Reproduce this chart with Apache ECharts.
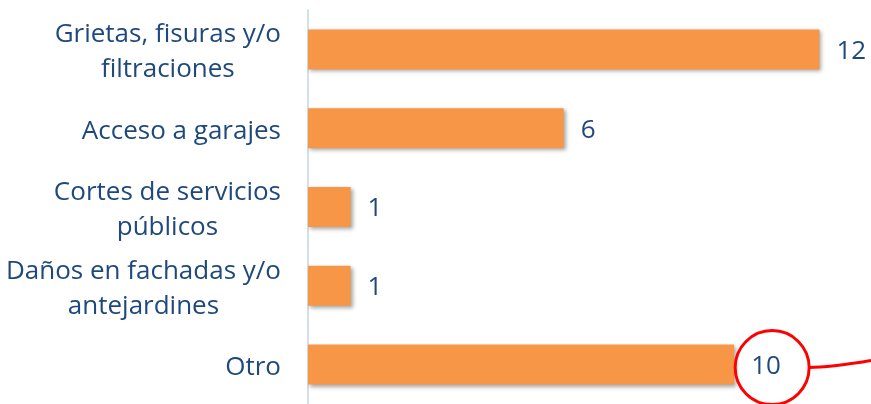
<html>
<head>
    <meta charset="utf-8">
    <title>Chart</title>
    <script src="https://cdn.jsdelivr.net/npm/echarts@6/dist/echarts.min.js"></script>
    <style>
        html, body { margin: 0; padding: 0; width: 871px; height: 404px; background: #fff; }
        #main { width: 871px; height: 404px; }
    </style>
</head>
<body>
    <div id="main"></div>
    <script type="text/javascript">
        // datos del gráfico
        var categorias = [
            'Grietas, fisuras y/o\nfiltraciones',
            'Acceso a garajes',
            'Cortes de servicios\npúblicos',
            'Daños en fachadas y/o\nantejardines',
            'Otro'
        ];
        var valores = [12, 6, 1, 1, 10];

        var azul = '#1F497D';
        var myChart = echarts.init(document.getElementById('main'));

        var option = {
            animation: false,
            textStyle: { fontFamily: 'Open Sans' },
            grid: {
                left: 308,
                top: 10,
                width: 554,
                height: 398
            },
            xAxis: {
                type: 'value',
                min: 0,
                max: 13,
                show: false
            },
            yAxis: {
                type: 'category',
                inverse: true,
                data: categorias,
                axisLine: { show: true, lineStyle: { color: '#D3DFEE', width: 2 } },
                axisTick: { show: false },
                axisLabel: {
                    margin: 27,
                    color: azul,
                    fontSize: 26,
                    lineHeight: 35,
                    fontFamily: 'Open Sans',
                    align: 'right',
                    padding: [6, 0, 0, 0],
                    // cada línea centrada dentro del bloque
                    formatter: function (v) {
                        return v.split('\n').map(function (s) { return '{c|' + s + '}'; }).join('\n');
                    },
                    rich: {
                        c: {
                            align: 'center',
                            color: azul,
                            fontSize: 26,
                            lineHeight: 35,
                            fontFamily: 'Open Sans'
                        }
                    }
                }
            },
            series: [{
                type: 'bar',
                data: valores,
                barWidth: 40,
                itemStyle: {
                    color: '#F79646',
                    shadowColor: 'rgba(0,0,0,0.35)',
                    shadowBlur: 4,
                    shadowOffsetX: 2,
                    shadowOffsetY: 2
                },
                label: {
                    show: true,
                    position: 'right',
                    distance: 17,
                    offset: [0, 2],
                    color: azul,
                    fontSize: 26,
                    fontFamily: 'Open Sans'
                }
            }]
        };
        myChart.setOption(option);

        // círculo rojo alrededor del valor de "Otro"
        var p = myChart.convertToPixel({ gridIndex: 0 }, [valores[4], categorias[4]]);
        var cx = p[0] + 38, cy = p[1] + 3, r = 37;
        myChart.setOption({
            graphic: [
                {
                    type: 'circle',
                    shape: { cx: cx, cy: cy, r: r },
                    style: { fill: 'rgba(0,0,0,0)', stroke: '#FF0000', lineWidth: 3 },
                    z: 100
                },
                {
                    type: 'bezierCurve',
                    shape: { x1: cx + r, y1: cy, cpx1: cx + r + 20, cpy1: cy, x2: 871, y2: cy - 7 },
                    style: { fill: null, stroke: '#FF0000', lineWidth: 3 },
                    z: 100
                }
            ]
        });
    </script>
</body>
</html>
